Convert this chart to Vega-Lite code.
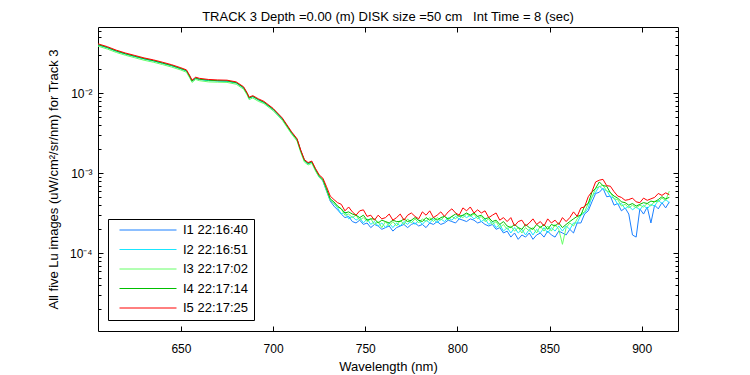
{
  "$schema": "https://vega.github.io/schema/vega-lite/v6.json",
  "width": 580,
  "height": 304,
  "autosize": "none",
  "padding": {"left": 98, "top": 27, "right": 72, "bottom": 44},
  "background": "white",
  "title": {"text": "TRACK 3 Depth =0.00 (m) DISK size =50 cm\u00a0\u00a0 Int Time = 8 (sec)", "fontSize": 13, "font": "Liberation Sans", "fontWeight": "normal", "color": "black", "anchor": "middle", "baseline": "alphabetic", "offset": -7},
  "config": {
    "view": {"stroke": "black", "strokeWidth": 1},
    "axis": {"grid": false, "domain": false, "labelFont": "Liberation Sans", "titleFont": "Liberation Sans", "labelColor": "black", "titleColor": "black", "tickColor": "black", "labelFontSize": 12, "titleFontSize": 13, "titleFontWeight": "normal"}
  },
  "resolve": {"axis": {"x": "independent", "y": "independent"}},
  "layer": [
    {
      "data": {"values": [
        {"w":605,"a":0.0403,"b":0.0398,"c":0.0385,"d":0.0403,"e":0.0412},
        {"w":610,"a":0.0372,"b":0.0367,"c":0.0355,"d":0.0371,"e":0.0380},
        {"w":615,"a":0.0336,"b":0.0331,"c":0.0321,"d":0.0335,"e":0.0343},
        {"w":620,"a":0.0309,"b":0.0305,"c":0.0296,"d":0.0309,"e":0.0316},
        {"w":625,"a":0.0288,"b":0.0285,"c":0.0276,"d":0.0288,"e":0.0295},
        {"w":630,"a":0.0269,"b":0.0266,"c":0.0257,"d":0.0269,"e":0.0275},
        {"w":635,"a":0.0254,"b":0.0251,"c":0.0243,"d":0.0254,"e":0.0260},
        {"w":640,"a":0.0237,"b":0.0235,"c":0.0227,"d":0.0237,"e":0.0243},
        {"w":645,"a":0.0221,"b":0.0218,"c":0.0211,"d":0.0221,"e":0.0226},
        {"w":650,"a":0.0202,"b":0.0200,"c":0.0194,"d":0.0202,"e":0.0207},
        {"w":653,"a":0.0191,"b":0.0188,"c":0.0182,"d":0.0191,"e":0.0195},
        {"w":655,"a":0.0158,"b":0.0156,"c":0.0151,"d":0.0158,"e":0.0162},
        {"w":656,"a":0.0142,"b":0.0140,"c":0.0136,"d":0.0142,"e":0.0145},
        {"w":658,"a":0.0154,"b":0.0153,"c":0.0148,"d":0.0154,"e":0.0158},
        {"w":660,"a":0.0149,"b":0.0148,"c":0.0143,"d":0.0149,"e":0.0153},
        {"w":665,"a":0.0145,"b":0.0143,"c":0.0138,"d":0.0145,"e":0.0148},
        {"w":670,"a":0.0143,"b":0.0141,"c":0.0137,"d":0.0143,"e":0.0146},
        {"w":675,"a":0.0142,"b":0.0140,"c":0.0136,"d":0.0142,"e":0.0145},
        {"w":680,"a":0.0135,"b":0.0133,"c":0.0129,"d":0.0135,"e":0.0138},
        {"w":684,"a":0.0117,"b":0.0116,"c":0.0112,"d":0.0117,"e":0.0120},
        {"w":686,"a":0.0098,"b":0.0097,"c":0.0094,"d":0.0098,"e":0.0100},
        {"w":687,"a":0.0087,"b":0.0086,"c":0.0083,"d":0.0087,"e":0.0089},
        {"w":689,"a":0.0091,"b":0.0090,"c":0.0087,"d":0.0091,"e":0.0093},
        {"w":692,"a":0.0083,"b":0.0082,"c":0.0079,"d":0.0083,"e":0.0085},
        {"w":695,"a":0.0077,"b":0.0076,"c":0.0074,"d":0.0077,"e":0.0079},
        {"w":700,"a":0.00631,"b":0.00624,"c":0.00604,"d":0.00631,"e":0.00646},
        {"w":705,"a":0.00479,"b":0.00473,"c":0.00458,"d":0.00479,"e":0.0049},
        {"w":710,"a":0.00322,"b":0.00319,"c":0.00309,"d":0.00322,"e":0.0033},
        {"w":713,"a":0.00264,"b":0.00261,"c":0.00252,"d":0.00264,"e":0.0027},
        {"w":715,"a":0.00191,"b":0.00188,"c":0.00182,"d":0.00191,"e":0.00195},
        {"w":717,"a":0.00145,"b":0.00143,"c":0.00138,"d":0.00145,"e":0.00148},
        {"w":719,"a":0.00133,"b":0.00131,"c":0.00127,"d":0.00133,"e":0.00136},
        {"w":721,"a":0.00139,"b":0.00137,"c":0.00133,"d":0.00139,"e":0.00142},
        {"w":723,"a":0.0011,"b":0.00111,"c":0.00107,"d":0.00112,"e":0.00115},
        {"w":725,"a":9.0e-4,"b":9.1e-4,"c":8.9e-4,"d":9.3e-4,"e":9.55e-4},
        {"w":727,"a":8.0e-4,"b":8.2e-4,"c":8.1e-4,"d":8.4e-4,"e":8.7e-4},
        {"w":729,"a":6.0e-4,"b":6.2e-4,"c":6.1e-4,"d":6.4e-4,"e":6.8e-4},
        {"w":731,"a":4.5e-4,"b":4.7e-4,"c":4.6e-4,"d":4.8e-4,"e":5.2e-4},
        {"w":733,"a":3.9e-4,"b":4.2e-4,"c":4.2e-4,"d":4.4e-4,"e":4.7e-4},
        {"w":735,"a":3.5e-4,"b":3.7e-4,"c":3.8e-4,"d":3.9e-4,"e":4.3e-4},
        {"w":737,"a":3.1e-4,"b":3.1e-4,"c":3.6e-4,"d":3.6e-4,"e":4.1e-4},
        {"w":739,"a":2.8e-4,"b":3.3e-4,"c":3.0e-4,"d":3.2e-4,"e":3.4e-4},
        {"w":741,"a":2.9e-4,"b":2.7e-4,"c":3.1e-4,"d":3.3e-4,"e":3.8e-4},
        {"w":743,"a":2.5e-4,"b":2.9e-4,"c":2.8e-4,"d":3.1e-4,"e":3.3e-4},
        {"w":745,"a":2.4e-4,"b":2.6e-4,"c":3.0e-4,"d":3.0e-4,"e":3.0e-4},
        {"w":747,"a":2.6e-4,"b":2.8e-4,"c":2.6e-4,"d":2.8e-4,"e":3.4e-4},
        {"w":749,"a":2.3e-4,"b":2.4e-4,"c":2.8e-4,"d":3.0e-4,"e":3.5e-4},
        {"w":751,"a":2.4e-4,"b":2.7e-4,"c":2.5e-4,"d":2.6e-4,"e":2.9e-4},
        {"w":753,"a":2.1e-4,"b":2.3e-4,"c":2.7e-4,"d":2.7e-4,"e":3.0e-4},
        {"w":755,"a":2.3e-4,"b":2.5e-4,"c":2.3e-4,"d":2.7e-4,"e":2.6e-4},
        {"w":757,"a":2.2e-4,"b":2.2e-4,"c":2.5e-4,"d":2.4e-4,"e":3.0e-4},
        {"w":759,"a":2.0e-4,"b":2.4e-4,"c":2.1e-4,"d":2.6e-4,"e":2.7e-4},
        {"w":761,"a":2.1e-4,"b":2.1e-4,"c":2.5e-4,"d":2.5e-4,"e":2.8e-4},
        {"w":763,"a":2.2e-4,"b":2.4e-4,"c":2.2e-4,"d":2.4e-4,"e":3.1e-4},
        {"w":765,"a":1.9e-4,"b":2.1e-4,"c":2.5e-4,"d":2.6e-4,"e":2.6e-4},
        {"w":767,"a":2.1e-4,"b":2.4e-4,"c":2.2e-4,"d":2.5e-4,"e":2.8e-4},
        {"w":769,"a":2.2e-4,"b":2.2e-4,"c":2.6e-4,"d":2.5e-4,"e":3.1e-4},
        {"w":771,"a":2.3e-4,"b":2.5e-4,"c":2.3e-4,"d":2.7e-4,"e":2.6e-4},
        {"w":773,"a":2.1e-4,"b":2.3e-4,"c":2.7e-4,"d":2.5e-4,"e":3.0e-4},
        {"w":775,"a":2.3e-4,"b":2.6e-4,"c":2.4e-4,"d":2.6e-4,"e":3.2e-4},
        {"w":777,"a":2.4e-4,"b":2.3e-4,"c":2.7e-4,"d":2.8e-4,"e":2.9e-4},
        {"w":779,"a":2.2e-4,"b":2.6e-4,"c":2.4e-4,"d":2.6e-4,"e":2.7e-4},
        {"w":781,"a":2.3e-4,"b":2.3e-4,"c":2.7e-4,"d":2.5e-4,"e":3.3e-4},
        {"w":783,"a":2.1e-4,"b":2.6e-4,"c":2.5e-4,"d":2.8e-4,"e":3.0e-4},
        {"w":785,"a":2.4e-4,"b":2.4e-4,"c":2.8e-4,"d":2.6e-4,"e":3.4e-4},
        {"w":787,"a":2.3e-4,"b":2.7e-4,"c":2.5e-4,"d":2.8e-4,"e":2.8e-4},
        {"w":789,"a":2.5e-4,"b":2.4e-4,"c":2.8e-4,"d":2.6e-4,"e":3.0e-4},
        {"w":791,"a":2.3e-4,"b":2.7e-4,"c":2.6e-4,"d":2.8e-4,"e":3.3e-4},
        {"w":793,"a":2.4e-4,"b":2.5e-4,"c":2.9e-4,"d":2.9e-4,"e":2.9e-4},
        {"w":795,"a":2.6e-4,"b":2.8e-4,"c":2.6e-4,"d":2.7e-4,"e":3.3e-4},
        {"w":797,"a":2.5e-4,"b":2.6e-4,"c":2.9e-4,"d":2.9e-4,"e":3.6e-4},
        {"w":799,"a":2.4e-4,"b":2.9e-4,"c":2.7e-4,"d":3.1e-4,"e":3.2e-4},
        {"w":801,"a":2.7e-4,"b":2.7e-4,"c":3.0e-4,"d":2.9e-4,"e":3.0e-4},
        {"w":803,"a":2.6e-4,"b":3.0e-4,"c":2.8e-4,"d":3.0e-4,"e":3.7e-4},
        {"w":805,"a":2.5e-4,"b":2.8e-4,"c":3.1e-4,"d":3.2e-4,"e":3.4e-4},
        {"w":807,"a":2.7e-4,"b":3.0e-4,"c":2.9e-4,"d":3.0e-4,"e":3.8e-4},
        {"w":809,"a":2.6e-4,"b":2.7e-4,"c":3.1e-4,"d":3.2e-4,"e":3.2e-4},
        {"w":811,"a":2.4e-4,"b":2.9e-4,"c":2.7e-4,"d":2.9e-4,"e":3.5e-4},
        {"w":813,"a":2.5e-4,"b":2.5e-4,"c":2.9e-4,"d":3.0e-4,"e":3.2e-4},
        {"w":815,"a":2.3e-4,"b":2.7e-4,"c":2.5e-4,"d":2.7e-4,"e":3.4e-4},
        {"w":817,"a":2.2e-4,"b":2.3e-4,"c":2.7e-4,"d":2.8e-4,"e":2.8e-4},
        {"w":819,"a":2.3e-4,"b":2.5e-4,"c":2.3e-4,"d":2.5e-4,"e":3.0e-4},
        {"w":821,"a":2.0e-4,"b":2.1e-4,"c":2.5e-4,"d":2.6e-4,"e":3.2e-4},
        {"w":823,"a":2.1e-4,"b":2.3e-4,"c":2.1e-4,"d":2.3e-4,"e":2.6e-4},
        {"w":825,"a":1.8e-4,"b":1.9e-4,"c":2.3e-4,"d":2.5e-4,"e":2.8e-4},
        {"w":827,"a":1.9e-4,"b":2.1e-4,"c":2.0e-4,"d":2.2e-4,"e":2.5e-4},
        {"w":829,"a":1.6e-4,"b":1.8e-4,"c":2.2e-4,"d":2.1e-4,"e":2.8e-4},
        {"w":831,"a":1.8e-4,"b":2.1e-4,"c":1.9e-4,"d":2.3e-4,"e":2.2e-4},
        {"w":833,"a":1.5e-4,"b":1.8e-4,"c":2.1e-4,"d":2.1e-4,"e":2.5e-4},
        {"w":835,"a":1.7e-4,"b":2.0e-4,"c":1.8e-4,"d":2.0e-4,"e":2.6e-4},
        {"w":837,"a":1.6e-4,"b":1.7e-4,"c":2.1e-4,"d":2.3e-4,"e":2.2e-4},
        {"w":839,"a":1.8e-4,"b":2.0e-4,"c":1.9e-4,"d":2.1e-4,"e":2.4e-4},
        {"w":841,"a":1.5e-4,"b":1.7e-4,"c":2.1e-4,"d":2.0e-4,"e":2.7e-4},
        {"w":843,"a":1.7e-4,"b":2.0e-4,"c":1.8e-4,"d":2.3e-4,"e":2.3e-4},
        {"w":845,"a":1.8e-4,"b":1.8e-4,"c":2.2e-4,"d":2.1e-4,"e":2.5e-4},
        {"w":847,"a":1.6e-4,"b":2.1e-4,"c":1.9e-4,"d":2.3e-4,"e":2.2e-4},
        {"w":849,"a":1.9e-4,"b":1.8e-4,"c":2.2e-4,"d":2.0e-4,"e":2.7e-4},
        {"w":851,"a":1.7e-4,"b":2.1e-4,"c":1.9e-4,"d":2.3e-4,"e":2.4e-4},
        {"w":853,"a":1.6e-4,"b":1.9e-4,"c":2.3e-4,"d":2.2e-4,"e":2.6e-4},
        {"w":855,"a":1.9e-4,"b":2.2e-4,"c":2.0e-4,"d":2.4e-4,"e":2.3e-4},
        {"w":857,"a":1.8e-4,"b":1.9e-4,"c":1.3e-4,"d":2.1e-4,"e":2.8e-4},
        {"w":859,"a":1.7e-4,"b":2.2e-4,"c":2.1e-4,"d":2.3e-4,"e":2.5e-4},
        {"w":861,"a":2.0e-4,"b":2.0e-4,"c":2.4e-4,"d":2.5e-4,"e":2.8e-4},
        {"w":863,"a":1.8e-4,"b":2.4e-4,"c":2.2e-4,"d":2.7e-4,"e":3.3e-4},
        {"w":865,"a":2.4e-4,"b":2.4e-4,"c":2.7e-4,"d":2.9e-4,"e":2.9e-4},
        {"w":867,"a":2.4e-4,"b":3.0e-4,"c":3.1e-4,"d":3.0e-4,"e":3.7e-4},
        {"w":869,"a":3.1e-4,"b":3.2e-4,"c":3.3e-4,"d":3.9e-4,"e":3.8e-4},
        {"w":871,"a":3.4e-4,"b":3.7e-4,"c":4.2e-4,"d":4.2e-4,"e":5.1e-4},
        {"w":873,"a":4.4e-4,"b":5.1e-4,"c":5.0e-4,"d":5.8e-4,"e":5.9e-4},
        {"w":875,"a":5.6e-4,"b":5.8e-4,"c":6.5e-4,"d":6.5e-4,"e":7.8e-4},
        {"w":877,"a":5.8e-4,"b":6.9e-4,"c":6.8e-4,"d":7.8e-4,"e":8.2e-4},
        {"w":879,"a":6.5e-4,"b":6.3e-4,"c":7.1e-4,"d":7.0e-4,"e":8.4e-4},
        {"w":881,"a":5.1e-4,"b":6.1e-4,"c":6.0e-4,"d":6.9e-4,"e":7.0e-4},
        {"w":883,"a":5.2e-4,"b":5.1e-4,"c":5.8e-4,"d":5.7e-4,"e":6.9e-4},
        {"w":885,"a":4.0e-4,"b":4.9e-4,"c":4.8e-4,"d":5.2e-4,"e":5.9e-4},
        {"w":887,"a":4.2e-4,"b":4.1e-4,"c":4.7e-4,"d":4.9e-4,"e":5.2e-4},
        {"w":889,"a":3.4e-4,"b":4.2e-4,"c":3.9e-4,"d":4.4e-4,"e":5.0e-4},
        {"w":891,"a":3.7e-4,"b":3.6e-4,"c":4.1e-4,"d":4.3e-4,"e":4.6e-4},
        {"w":893,"a":3.1e-4,"b":3.9e-4,"c":3.7e-4,"d":4.0e-4,"e":4.7e-4},
        {"w":895,"a":1.7e-4,"b":3.5e-4,"c":4.0e-4,"d":4.2e-4,"e":4.9e-4},
        {"w":897,"a":1.6e-4,"b":3.8e-4,"c":3.7e-4,"d":3.9e-4,"e":4.4e-4},
        {"w":899,"a":3.6e-4,"b":3.5e-4,"c":4.0e-4,"d":4.1e-4,"e":4.3e-4},
        {"w":901,"a":3.1e-4,"b":4.0e-4,"c":3.8e-4,"d":4.3e-4,"e":4.9e-4},
        {"w":903,"a":3.8e-4,"b":3.6e-4,"c":4.2e-4,"d":4.2e-4,"e":4.6e-4},
        {"w":905,"a":2.4e-4,"b":4.1e-4,"c":3.9e-4,"d":4.5e-4,"e":4.8e-4},
        {"w":907,"a":4.0e-4,"b":3.9e-4,"c":4.5e-4,"d":4.4e-4,"e":5.0e-4},
        {"w":909,"a":3.6e-4,"b":4.6e-4,"c":4.4e-4,"d":4.7e-4,"e":5.6e-4},
        {"w":911,"a":4.3e-4,"b":4.2e-4,"c":4.9e-4,"d":5.1e-4,"e":5.3e-4},
        {"w":913,"a":3.7e-4,"b":4.7e-4,"c":4.6e-4,"d":4.8e-4,"e":5.7e-4},
        {"w":915,"a":4.4e-4,"b":4.3e-4,"c":6.0e-4,"d":5.0e-4,"e":5.4e-4}
      ]},
      "transform": [{"fold": ["a", "b", "c", "d", "e"], "as": ["k", "v"]}],
      "mark": {"type": "line", "strokeWidth": 1},
      "encoding": {
        "x": {"field": "w", "type": "quantitative", "scale": {"domain": [605, 919.7], "nice": false, "zero": false},
          "axis": {"orient": "bottom", "values": [650, 700, 750, 800, 850, 900], "tickSize": -5, "labelPadding": 17, "title": "Wavelength (nm)", "titleX": 290, "titleY": 35, "titleBaseline": "middle"}},
        "y": {"field": "v", "type": "quantitative", "scale": {"type": "log", "domain": [1.078e-5, 0.0668], "nice": false},
          "axis": {"orient": "left", "values": [0.01, 0.001, 0.0001], "tickSize": -5, "labelPadding": 11, "labelExpr": "datum.value < 0.00015 ? '10⁻⁴' : datum.value < 0.0015 ? '10⁻³' : '10⁻²'", "title": "All five Lu images (uW/cm²/sr/nm) for Track 3", "titleX": -45, "titleY": 152, "titleBaseline": "middle", "titleAngle": -90}},
        "color": {"field": "k", "type": "nominal", "scale": {"domain": ["a", "b", "c", "d", "e"], "range": ["#1a80ff", "#19e6ff", "#66ff66", "#00bf00", "#ff0000"]},
          "legend": {"orient": "none", "legendX": 10, "legendY": 192, "title": null, "symbolType": "stroke", "symbolSize": 3249, "symbolStrokeWidth": 1, "clipHeight": 12, "rowPadding": 6.5, "padding": 5, "symbolOffset": 6, "labelOffset": 6, "labelFontSize": 13, "labelFont": "Liberation Sans", "labelColor": "black", "strokeColor": "black", "fillColor": "white",
            "labelExpr": "datum.label == 'a' ? 'I1 22:16:40' : datum.label == 'b' ? 'I2 22:16:51' : datum.label == 'c' ? 'I3 22:17:02' : datum.label == 'd' ? 'I4 22:17:14' : 'I5 22:17:25'"}}
      }
    },
    {
      "data": {"values": [{"w": 700, "v": 0.001}]},
      "mark": {"type": "point", "opacity": 0},
      "encoding": {
        "x": {"field": "w", "type": "quantitative", "scale": {"domain": [605, 919.7], "nice": false, "zero": false},
          "axis": {"orient": "top", "values": [650, 700, 750, 800, 850, 900], "tickSize": -5, "labels": false, "title": null}},
        "y": {"field": "v", "type": "quantitative", "scale": {"type": "log", "domain": [1.078e-5, 0.0668], "nice": false},
          "axis": {"orient": "left", "values": [2e-5, 3e-5, 4e-5, 5e-5, 6e-5, 7e-5, 8e-5, 9e-5, 2e-4, 3e-4, 4e-4, 5e-4, 6e-4, 7e-4, 8e-4, 9e-4, 0.002, 0.003, 0.004, 0.005, 0.006, 0.007, 0.008, 0.009, 0.02, 0.03, 0.04, 0.05, 0.06], "tickSize": -3, "labels": false, "title": null}}
      }
    },
    {
      "data": {"values": [{"w": 700, "v": 0.001}]},
      "mark": {"type": "point", "opacity": 0},
      "encoding": {
        "x": {"field": "w", "type": "quantitative", "scale": {"domain": [605, 919.7], "nice": false, "zero": false}, "axis": null},
        "y": {"field": "v", "type": "quantitative", "scale": {"type": "log", "domain": [1.078e-5, 0.0668], "nice": false},
          "axis": {"orient": "right", "values": [0.01, 0.001, 0.0001], "tickSize": -5, "labels": false, "title": null}}
      }
    },
    {
      "data": {"values": [{"w": 700, "v": 0.001}]},
      "mark": {"type": "point", "opacity": 0},
      "encoding": {
        "x": {"field": "w", "type": "quantitative", "scale": {"domain": [605, 919.7], "nice": false, "zero": false}, "axis": null},
        "y": {"field": "v", "type": "quantitative", "scale": {"type": "log", "domain": [1.078e-5, 0.0668], "nice": false},
          "axis": {"orient": "right", "values": [2e-5, 3e-5, 4e-5, 5e-5, 6e-5, 7e-5, 8e-5, 9e-5, 2e-4, 3e-4, 4e-4, 5e-4, 6e-4, 7e-4, 8e-4, 9e-4, 0.002, 0.003, 0.004, 0.005, 0.006, 0.007, 0.008, 0.009, 0.02, 0.03, 0.04, 0.05, 0.06], "tickSize": -3, "labels": false, "title": null}}
      }
    }
  ]
}
